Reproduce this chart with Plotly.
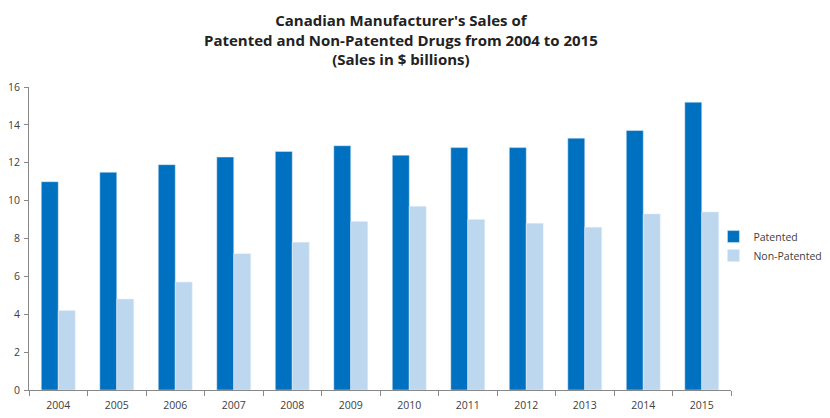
import plotly.graph_objects as go

years = ["2004", "2005", "2006", "2007", "2008", "2009", "2010", "2011", "2012", "2013", "2014", "2015"]
patented = [11.0, 11.5, 11.9, 12.3, 12.6, 12.9, 12.4, 12.8, 12.8, 13.3, 13.7, 15.2]
non_patented = [4.2, 4.8, 5.7, 7.2, 7.8, 8.9, 9.7, 9.0, 8.8, 8.6, 9.3, 9.4]

font = "Open Sans, Liberation Sans, sans-serif"

fig = go.Figure()
fig.add_trace(go.Bar(x=years, y=patented, name="Patented", marker_color="#0070C0"))
fig.add_trace(go.Bar(x=years, y=non_patented, name="Non-Patented", marker_color="#BDD7EE"))

fig.update_layout(
    width=830, height=418,
    margin=dict(l=29, r=99, t=87, b=28, autoexpand=False),
    paper_bgcolor="white", plot_bgcolor="rgba(0,0,0,0)",
    barmode="group", bargap=0.42, bargroupgap=0,
    font=dict(family=font, size=11, color="#404040"),
    legend=dict(
        x=0.975, xanchor="left", y=0.475, yanchor="middle",
        bgcolor="rgba(0,0,0,0)", font=dict(size=10.5, color="#404040"),
        itemwidth=30, tracegroupgap=4,
    ),
    showlegend=True,
    annotations=[dict(
        text="<b>Canadian Manufacturer's Sales of<br>Patented and Non-Patented Drugs from 2004 to 2015<br>(Sales in $ billions)</b>",
        xref="paper", yref="paper", x=(401 - 29) / 702, y=1.0 + (87 - 8) / 303,
        xanchor="center", yanchor="top", showarrow=False, align="center",
        font=dict(family=font, size=15, color="#222222"),
    )],
)
fig.update_xaxes(
    showline=True, linecolor="#888888", linewidth=1,
    ticks="outside", tickson="boundaries", ticklen=5, tickcolor="#888888",
    showgrid=False, tickfont=dict(size=10.5, color="#404040"), ticklabelstandoff=5,
)
fig.update_yaxes(
    range=[0, 16], dtick=2, showline=True, linecolor="#888888", linewidth=1,
    ticks="outside", ticklen=4, tickcolor="#888888",
    showgrid=False, zeroline=False, tickfont=dict(size=10.5, color="#404040"), ticklabelstandoff=2,
)

fig.write_html("out.html")
